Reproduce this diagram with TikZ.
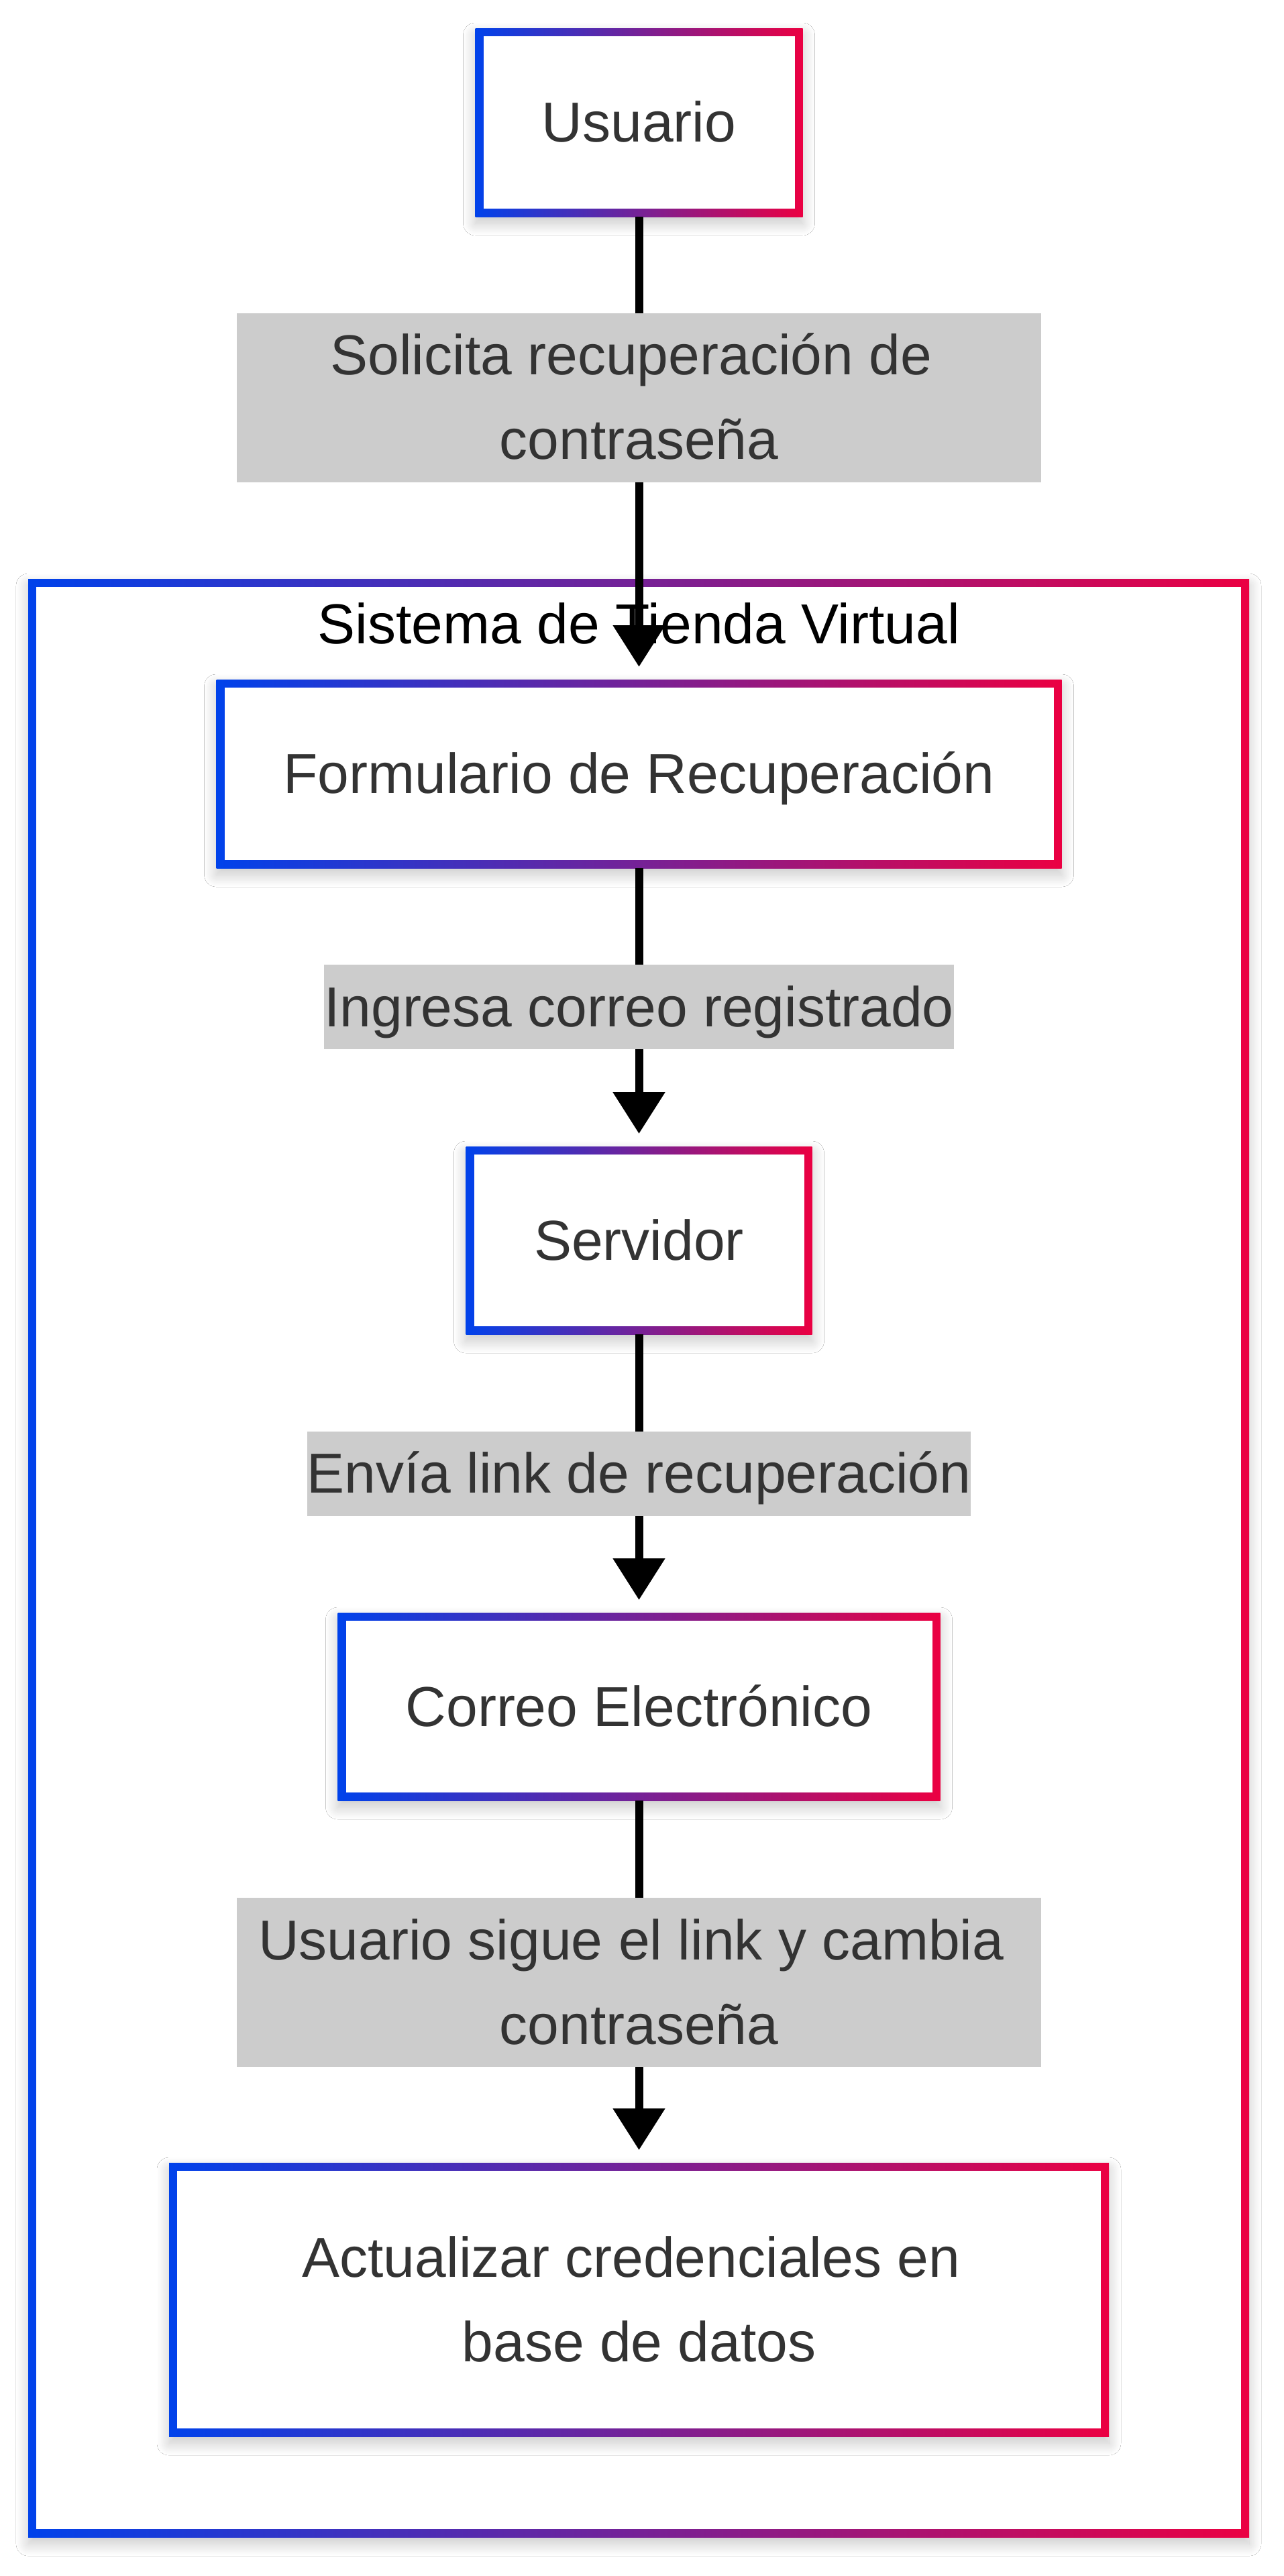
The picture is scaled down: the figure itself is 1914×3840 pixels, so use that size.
\documentclass[tikz,border=0pt]{standalone}
\usepackage{fontspec}
\setmainfont{Liberation Sans}
\usetikzlibrary{arrows.meta,shadows.blur}
\definecolor{gblue}{RGB}{0,66,235}
\definecolor{gred}{RGB}{235,0,66}
\definecolor{txt}{RGB}{51,51,51}
\definecolor{lblbg}{RGB}{204,204,204}
\newcommand\lstrut{\rule[-17pt]{0pt}{63pt}}
\tikzset{
  mainfont/.style={font=\fontsize{42pt}{63pt}\selectfont},
  gbox/.style={rectangle, inner sep=0pt, outer sep=0pt, align=center, text=txt, mainfont,
    blur shadow={shadow xshift=0pt, shadow yshift=-5pt, shadow blur radius=9pt, shadow opacity=22, shadow blur steps=20},
    path picture={
      \shade[left color=gblue, right color=gred]
        (path picture bounding box.south west) rectangle (path picture bounding box.north east);
      \fill[white]
        ([xshift=6pt,yshift=6pt]path picture bounding box.south west) rectangle
        ([xshift=-6pt,yshift=-6pt]path picture bounding box.north east);
    }},
  elabel/.style={rectangle, fill=lblbg, inner sep=0pt, outer sep=0pt, align=center, text=txt, mainfont},
  ctitle/.style={inner sep=0pt, anchor=base, text=black, mainfont},
  flow/.style={line width=6pt, draw=black, -{Triangle[width=37.5pt,length=31pt]}, shorten >=9.5pt}
}
\begin{document}
\begin{tikzpicture}[x=0.5pt,y=-0.5pt]
\fill[white] (0,0) rectangle (1914,3840);
\useasboundingbox (0,0) rectangle (1914,3840);

% cluster
\node[gbox, minimum width=910pt, minimum height=1459.5pt] (cluster) at (952,2322.5) {};
\node[ctitle] (ttl) at (952.5,959) {Sistema de Tienda Virtual};

% boxes
\node[gbox, minimum width=244pt, minimum height=140.5pt] (usr) at (952.5,182.5) {Usuario\lstrut};
\node[gbox, minimum width=630pt, minimum height=140.5pt] (frm) at (952.5,1153.5) {Formulario de Recuperación\lstrut};
\node[gbox, minimum width=258pt, minimum height=140pt] (srv) at (952.5,1849) {Servidor\lstrut};
\node[gbox, minimum width=449pt, minimum height=140pt] (mail) at (952.5,2544) {Correo Electrónico\lstrut};
\node[gbox, minimum width=700.5pt, minimum height=204pt] (db) at (952.5,3428) {Actualizar credenciales en\kern0.278em\lstrut\\base de datos\lstrut};

% edges
\draw[flow] (usr.south) -- (frm.north);
\draw[flow] (frm.south) -- (srv.north);
\draw[flow] (srv.south) -- (mail.north);
\draw[flow] (mail.south) -- (db.north);

% edge labels
\node[elabel, minimum width=599.5pt] (l1) at (952.5,592.5) {Solicita recuperación de\kern0.278em\lstrut\\contraseña\lstrut};
\node[elabel] (l2) at (952.5,1501) {Ingresa correo registrado\lstrut};
\node[elabel] (l3) at (952.5,2196.5) {Envía link de recuperación\lstrut};
\node[elabel, minimum width=599.5pt] (l4) at (952.5,2955) {Usuario sigue el link y cambia\kern0.278em\lstrut\\contraseña\lstrut};
\end{tikzpicture}
\end{document}
